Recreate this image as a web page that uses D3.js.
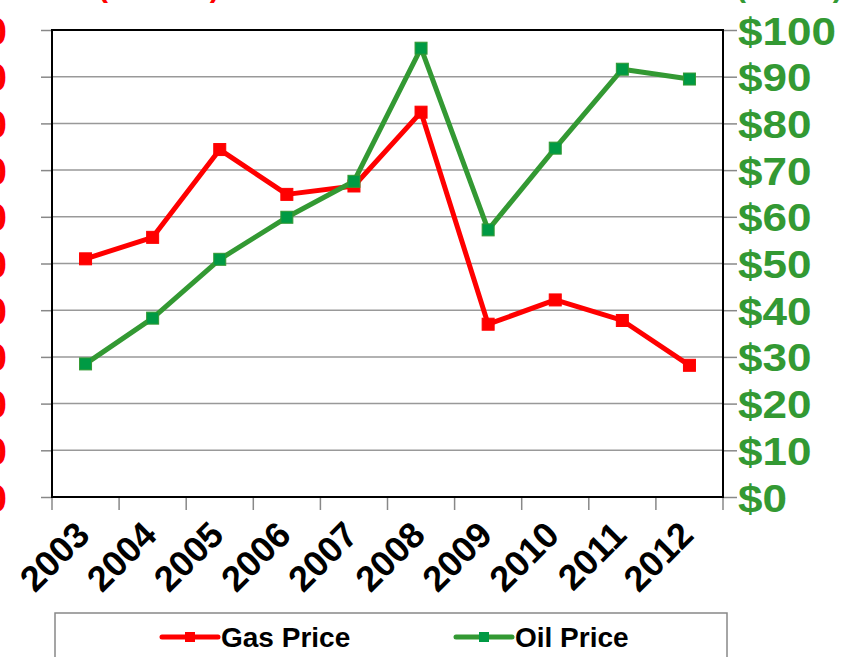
<!DOCTYPE html>
<html>
<head>
<meta charset="utf-8">
<script src="https://cdn.jsdelivr.net/npm/d3@7"></script>
<style>
  html, body { margin: 0; padding: 0; background: #fff; overflow: hidden; }
  svg { display: block; font-family: "Liberation Sans", Arial, sans-serif; font-weight: bold; }
</style>
</head>
<body>
<svg id="chart" width="852" height="657"></svg>
<script>
// chart data
const years = ['2003', '2004', '2005', '2006', '2007', '2008', '2009', '2010', '2011', '2012'];
const gasPrice = [2.55, 2.78, 3.72, 3.24, 3.33, 4.12, 1.85, 2.11, 1.89, 1.41];
const oilPrice = [28.5, 38.3, 50.9, 59.9, 67.6, 96.1, 57.2, 74.7, 91.6, 89.5];
const gasTicks = [0, 0.5, 1, 1.5, 2, 2.5, 3, 3.5, 4, 4.5, 5];
const oilTicks = [0, 10, 20, 30, 40, 50, 60, 70, 80, 90, 100];

const RED = '#ff0000';
const GREEN = '#339933';
const GREEN_MARK = '#009a44';

const svg = d3.select('#chart');

// plot area
const plotLeft = 52, plotRight = 723, plotTop = 30, plotBottom = 497;

const x = d3.scaleBand().domain(years).range([plotLeft, plotRight]).padding(0);
const yGas = d3.scaleLinear().domain([0, 5]).range([plotBottom, plotTop]);
const yOil = d3.scaleLinear().domain([0, 100]).range([plotBottom, plotTop]);

// axis titles (mostly cut off by the top edge)
svg.append('text')
  .attr('x', 98).attr('y', -3)
  .attr('font-size', 30).attr('fill', RED)
  .text('(Dollars)');
svg.append('text')
  .attr('x', 736).attr('y', -3)
  .attr('font-size', 30).attr('fill', GREEN)
  .text('(Barrel)');

// gridlines
svg.append('g')
  .selectAll('line')
  .data(oilTicks.slice(1, -1))
  .join('line')
  .attr('x1', plotLeft).attr('x2', plotRight)
  .attr('y1', d => yOil(d)).attr('y2', d => yOil(d))
  .attr('stroke', '#999').attr('stroke-width', 1.5);

// left axis (gas)
const gasAxis = svg.append('g')
  .attr('transform', `translate(${plotLeft},0)`)
  .call(d3.axisLeft(yGas).tickValues(gasTicks).tickSize(11).tickPadding(0)
    .tickFormat(d => '$' + d.toFixed(2)));
gasAxis.select('.domain').remove();
gasAxis.selectAll('.tick line').attr('stroke', '#888').attr('stroke-width', 1.5);
gasAxis.selectAll('.tick text')
  .attr('x', 7 - plotLeft).attr('dy', '0.36em')
  .attr('font-size', 39).attr('font-weight', 'bold').attr('font-family', 'Liberation Sans, Arial, sans-serif')
  .attr('fill', RED);

// right axis (oil)
const oilAxis = svg.append('g')
  .attr('transform', `translate(${plotRight},0)`)
  .call(d3.axisRight(yOil).tickValues(oilTicks).tickSize(14).tickPadding(0)
    .tickFormat(d => '$' + d));
oilAxis.select('.domain').remove();
oilAxis.selectAll('.tick line').attr('stroke', '#888').attr('stroke-width', 1.5);
oilAxis.selectAll('.tick text')
  .attr('x', 0).attr('dy', '0.36em')
  .attr('transform', 'translate(15,0) scale(1.13,1)')
  .attr('font-size', 39).attr('font-weight', 'bold').attr('font-family', 'Liberation Sans, Arial, sans-serif')
  .attr('fill', GREEN);

// bottom axis ticks at category edges
svg.append('g')
  .selectAll('line')
  .data(years.concat(['end']))
  .join('line')
  .attr('x1', (d, i) => plotLeft + i * x.bandwidth())
  .attr('x2', (d, i) => plotLeft + i * x.bandwidth())
  .attr('y1', plotBottom).attr('y2', plotBottom + 13)
  .attr('stroke', '#888').attr('stroke-width', 1.5);

// year labels, rotated
svg.append('g')
  .selectAll('text')
  .data(years)
  .join('text')
  .attr('transform', d => `translate(${x(d) + x.bandwidth() / 2 + 6},${plotBottom + 40}) rotate(-45)`)
  .attr('text-anchor', 'end')
  .attr('font-size', 36)
  .attr('fill', '#000')
  .text(d => d);

// plot frame
svg.append('rect')
  .attr('x', plotLeft).attr('y', plotTop)
  .attr('width', plotRight - plotLeft).attr('height', plotBottom - plotTop)
  .attr('fill', 'none').attr('stroke', '#000').attr('stroke-width', 2);

// series
const cx = (d, i) => x(years[i]) + x.bandwidth() / 2;

function drawSeries(values, yScale, color, markColor) {
  const line = d3.line().x(cx).y(d => yScale(d));
  svg.append('path')
    .datum(values)
    .attr('d', line)
    .attr('fill', 'none')
    .attr('stroke', color)
    .attr('stroke-width', 5)
    .attr('stroke-linejoin', 'round');
  svg.append('g')
    .selectAll('rect')
    .data(values)
    .join('rect')
    .attr('x', (d, i) => cx(d, i) - 6)
    .attr('y', d => yScale(d) - 6)
    .attr('width', 12).attr('height', 12)
    .attr('fill', markColor)
    .attr('stroke', color).attr('stroke-width', 1);
}

drawSeries(gasPrice, yGas, RED, RED);
drawSeries(oilPrice, yOil, GREEN, GREEN_MARK);

// legend
const legend = svg.append('g');
legend.append('rect')
  .attr('x', 55).attr('y', 613)
  .attr('width', 672).attr('height', 80)
  .attr('fill', '#fff').attr('stroke', '#888').attr('stroke-width', 1.5);

const legendItems = [
  { name: 'Gas Price', color: RED, mark: RED, x: 162 },
  { name: 'Oil Price', color: GREEN, mark: GREEN_MARK, x: 456 }
];
legendItems.forEach(item => {
  legend.append('line')
    .attr('x1', item.x).attr('x2', item.x + 56)
    .attr('y1', 637).attr('y2', 637)
    .attr('stroke', item.color).attr('stroke-width', 5)
    .attr('stroke-linecap', 'round');
  legend.append('rect')
    .attr('x', item.x + 28 - 5).attr('y', 632)
    .attr('width', 10).attr('height', 10)
    .attr('fill', item.mark);
  legend.append('text')
    .attr('x', item.x + 59).attr('y', 647)
    .attr('font-size', 28)
    .attr('fill', '#000')
    .text(item.name);
});
</script>
</body>
</html>
